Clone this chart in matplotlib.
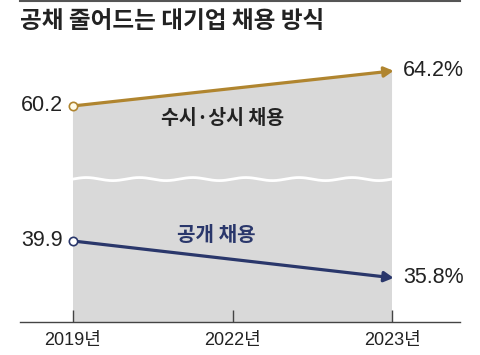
import matplotlib.pyplot as plt
import numpy as np
from matplotlib import font_manager

years = ["2019년", "2022년", "2023년"]
x_pos = [0, 2]
tick_pos = [0, 1, 2]
open_hire = [60.2, 64.2]      # 수시·상시 채용
public_hire = [39.9, 35.8]    # 공개 채용
open_labels = ["60.2", "64.2%"]
public_labels = ["39.9", "35.8%"]

KR = "Noto Sans CJK KR"
names = {f.name for f in font_manager.fontManager.ttflist}
NUM = "Liberation Sans Narrow" if "Liberation Sans Narrow" in names else "Liberation Sans"

GOLD = "#b0852f"
NAVY = "#2a376b"
FILL = "#d9d9d9"
TXT = "#222222"

W, H = 480, 355
fig = plt.figure(figsize=(W / 100, H / 100), dpi=100)


def frac(px_left, px_top, px_w, px_h):
    return [px_left / W, 1 - (px_top + px_h) / H, px_w / W, px_h / H]


ax_top = fig.add_axes(frac(20, 55, 440, 123))
ax_bot = fig.add_axes(frac(20, 178, 440, 144))
for ax in (ax_top, ax_bot):
    ax.set_xlim(-0.332, 2.426)
    for s in ax.spines.values():
        s.set_visible(False)
    ax.set_yticks([])
    ax.patch.set_alpha(0)

ax_top.set_ylim(52.0, 66.0)
ax_bot.set_ylim(30.9, 46.9)
ax_top.set_xticks([])

# gray area under the upper line, continued through the break
ax_top.fill_between(x_pos, open_hire, [0, 0], color=FILL, lw=0, zorder=0)
ax_bot.fill_between(x_pos, [100, 100], [0, 0], color=FILL, lw=0, zorder=0)

# break mark
wx = np.linspace(0, 2, 400)
wy = 46.9 - 0.12 + 0.17 * np.sin(wx / 2 * 12 * np.pi)
ax_bot.plot(wx, wy, color="white", lw=2, zorder=1, clip_on=False)

# lines with arrows
for ax, vals, col in ((ax_top, open_hire, GOLD), (ax_bot, public_hire, NAVY)):
    ax.annotate("", xy=(x_pos[1] + 0.01, vals[1]), xytext=(x_pos[0], vals[0]),
                arrowprops=dict(arrowstyle="-|>,head_length=0.55,head_width=0.3",
                                color=col, lw=2.3, shrinkA=0, shrinkB=0), zorder=3)
    ax.plot(x_pos[0], vals[0], "o", ms=6, mfc="#fffbe8" if col == GOLD else "white",
            mec=col, mew=1.2, zorder=4)

for ax, vals, labs in ((ax_top, open_hire, open_labels), (ax_bot, public_hire, public_labels)):
    ax.annotate(labs[0], (x_pos[0], vals[0]), xytext=(-7, 0), textcoords="offset points",
                ha="right", va="center", fontsize=15.5, family=NUM, color=TXT)
    ax.annotate(labs[1], (x_pos[1], vals[1]), xytext=(8, 0), textcoords="offset points",
                ha="left", va="center", fontsize=15.5, family=NUM, color=TXT)

ax_top.text(0.94, 58.8, "수시·상시 채용", ha="center", va="center", fontsize=14,
            family=KR, weight="bold", color=TXT)
ax_bot.text(0.9, 40.6, "공개 채용", ha="center", va="center", fontsize=14.5,
            family=KR, weight="bold", color=NAVY)

# x axis
ax_bot.spines["bottom"].set_visible(True)
ax_bot.spines["bottom"].set_color("#444444")
ax_bot.spines["bottom"].set_linewidth(1)
ax_bot.set_xticks(tick_pos)
ax_bot.set_xticklabels(years, family=[NUM, KR], fontsize=13, color=TXT)
ax_bot.tick_params(axis="x", direction="in", length=9, width=1, color="#444444", pad=7)

# title and top rule
fig.add_artist(plt.Line2D([20 / W, 460 / W], [1 - 1 / H, 1 - 1 / H], color="#555555", lw=1.5))
fig.text(20 / W, 1 - 21 / H, "공채 줄어드는 대기업 채용 방식", ha="left", va="center",
         fontsize=17, weight="bold", family=KR, color=TXT)

fig.savefig("out.png", dpi=100)
